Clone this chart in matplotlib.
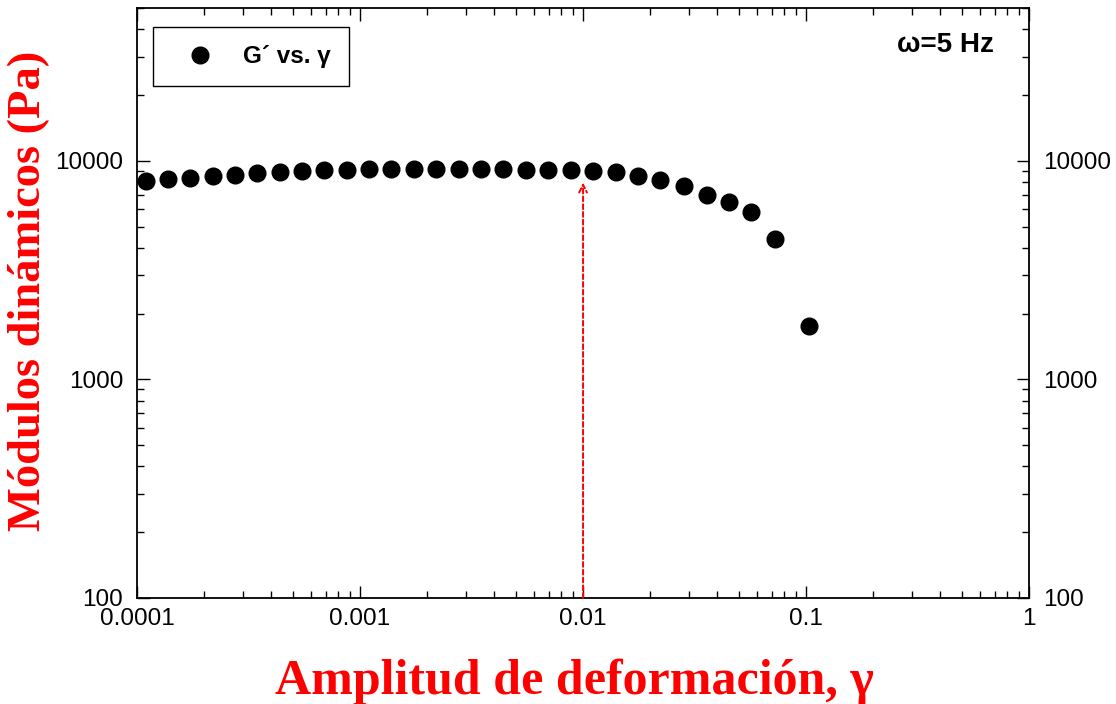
import numpy as np
import matplotlib
matplotlib.use('Agg')
import matplotlib.pyplot as plt
from matplotlib.ticker import LogLocator, FixedLocator, FixedFormatter, NullFormatter
from matplotlib.lines import Line2D

# strain amplitude (gamma) and storage modulus G' (Pa)
gamma = [1.10e-4, 1.38e-4, 1.73e-4, 2.19e-4, 2.75e-4, 3.45e-4, 4.38e-4, 5.50e-4,
         6.90e-4, 8.75e-4, 1.10e-3, 1.38e-3, 1.75e-3, 2.19e-3, 2.78e-3, 3.49e-3,
         4.38e-3, 5.55e-3, 6.97e-3, 8.83e-3, 1.11e-2, 1.41e-2, 1.77e-2, 2.21e-2,
         2.84e-2, 3.60e-2, 4.52e-2, 5.67e-2, 7.26e-2, 1.03e-1]
g_prime = [8110, 8280, 8360, 8540, 8630, 8820, 8910, 9000, 9100, 9100,
           9190, 9190, 9190, 9190, 9190, 9190, 9190, 9100, 9100, 9100,
           9000, 8910, 8540, 8190, 7690, 6990, 6500, 5850, 4400, 1750]

lvr_gamma = 0.01      # arrow marking the end of linear region
lvr_tip = 7950

fig = plt.figure(figsize=(11.16, 7.04), dpi=100)
ax = fig.add_axes([0.1228, 0.1506, 0.7993, 0.838])

ax.plot(gamma, g_prime, 'o', color='black', markersize=12, linestyle='none')

ax.annotate('', xy=(lvr_gamma, lvr_tip), xytext=(lvr_gamma, 100),
            arrowprops=dict(arrowstyle='->', color='red', linestyle=(0, (2.5, 1.5)),
                            lw=1.4, mutation_scale=14, shrinkA=0, shrinkB=0))

ax.set_xscale('log')
ax.set_yscale('log')
ax.set_xlim(1e-4, 1)
ax.set_ylim(100, 50000)

ax.xaxis.set_major_locator(FixedLocator([1e-4, 1e-3, 1e-2, 1e-1, 1]))
ax.xaxis.set_major_formatter(FixedFormatter(['0.0001', '0.001', '0.01', '0.1', '1']))
ax.yaxis.set_major_locator(FixedLocator([100, 1000, 10000]))
ax.yaxis.set_major_formatter(FixedFormatter(['100', '1000', '10000']))
ax.xaxis.set_minor_locator(LogLocator(base=10, subs=np.arange(2, 10), numticks=20))
ax.yaxis.set_minor_locator(LogLocator(base=10, subs=np.arange(2, 10), numticks=20))
ax.xaxis.set_minor_formatter(NullFormatter())
ax.yaxis.set_minor_formatter(NullFormatter())

ax.tick_params(which='both', direction='in', top=True, right=True,
               labelright=True, color='black', width=1.0)
ax.tick_params(which='major', length=9, labelsize=17.5)
ax.tick_params(axis='x', which='major', pad=7)
ax.tick_params(axis='y', which='major', pad=10)
ax.tick_params(which='minor', length=5)
for t in ax.xaxis.get_major_ticks() + ax.yaxis.get_major_ticks():
    t.label1.set_family('Liberation Sans')
    t.label2.set_family('Liberation Sans')

for s in ax.spines.values():
    s.set_linewidth(1.3)

ax.set_xlabel('Amplitud de deformación, γ', family='Liberation Serif',
              weight='bold', size=36, color='red')
ax.set_ylabel('Módulos dinámicos (Pa)', family='Liberation Serif',
              weight='bold', size=33.5, color='red')
ax.xaxis.set_label_coords(0.4905, -0.102)
ax.yaxis.set_label_coords(-0.097, 0.52)

handle = Line2D([], [], marker='o', color='black', linestyle='none', markersize=12)
leg = ax.legend([handle], ['G´ vs. γ'], loc='upper left', bbox_to_anchor=(0.018, 0.968),
                frameon=True, fancybox=False, edgecolor='black', framealpha=1,
                borderpad=0.75, handlelength=2.4, handletextpad=0.55, borderaxespad=0,
                prop=dict(family='Liberation Sans', weight='bold', size=17.5))
leg.get_frame().set_linewidth(1.0)

ax.text(0.96, 0.96, 'ω=5 Hz', transform=ax.transAxes, ha='right', va='top',
        family='Liberation Sans', weight='bold', size=20)

fig.savefig('out.png', dpi=100)
